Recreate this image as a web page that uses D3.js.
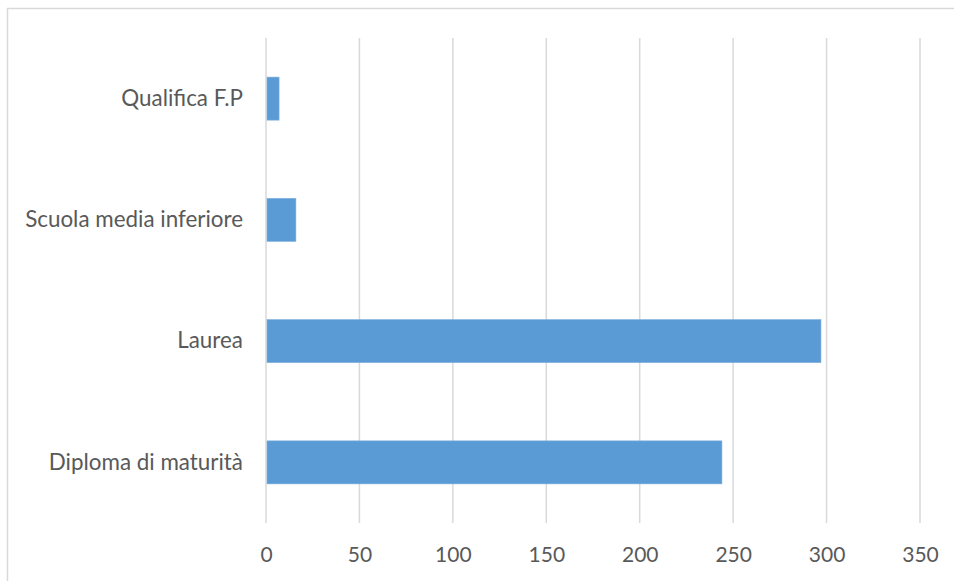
<!DOCTYPE html>
<html>
<head>
<meta charset="utf-8">
<script src="https://cdn.jsdelivr.net/npm/d3@7"></script>
<style>
  html, body { margin: 0; padding: 0; background: #fff; }
  svg { display: block; }
  text { font-family: Lato, sans-serif; fill: #595959; }
</style>
</head>
<body>
<svg id="chart" width="954" height="581"></svg>
<script>
const categories = ["Qualifica F.P", "Scuola media inferiore", "Laurea", "Diploma di maturità"];
const values = [7, 16, 297, 244];
const xTicks = [0, 50, 100, 150, 200, 250, 300, 350];

const W = 954, H = 581;
const svg = d3.select("#chart");

// outer chart border
svg.append("rect")
  .attr("x", 7.5).attr("y", 8.5)
  .attr("width", W).attr("height", H)
  .attr("fill", "none").attr("stroke", "#d9d9d9").attr("stroke-width", 1.5);

const plot = { left: 266, right: 920, top: 38, bottom: 523 };

const x = d3.scaleLinear().domain([0, 350]).range([plot.left, plot.right]);
const y = d3.scaleBand().domain(categories)
  .range([plot.top, plot.bottom])
  .paddingInner(0.645).paddingOuter(0.3225);

// gridlines
svg.append("g").selectAll("line").data(xTicks).join("line")
  .attr("x1", d => x(d)).attr("x2", d => x(d))
  .attr("y1", plot.top).attr("y2", plot.bottom)
  .attr("stroke", "#d9d9d9").attr("stroke-width", 1.5);

// bars
svg.append("g").selectAll("rect").data(categories).join("rect")
  .attr("x", x(0) + 1)
  .attr("y", d => y(d))
  .attr("width", (d, i) => x(values[i]) - x(0) - 1)
  .attr("height", y.bandwidth())
  .attr("fill", "#5b9bd5")
  .attr("stroke", "#7fb0de").attr("stroke-width", 0.6);

const font = "Lato, sans-serif";

// x axis tick labels
const xAxis = d3.axisBottom(x).tickValues(xTicks).tickSize(0).tickPadding(0).tickFormat(d3.format("d"));
const gx = svg.append("g").attr("transform", `translate(0,${plot.bottom + 24.5})`).call(xAxis);
gx.select(".domain").remove();
gx.selectAll("text").attr("font-size", 21).attr("font-family", font).attr("fill", "#595959");

// y axis category labels
const yAxis = d3.axisLeft(y).tickSize(0).tickPadding(23);
const gy = svg.append("g").attr("transform", `translate(${plot.left},0)`).call(yAxis);
gy.select(".domain").remove();
gy.selectAll("text").attr("font-size", 22.4).attr("font-family", font).attr("fill", "#595959");
</script>
</body>
</html>
